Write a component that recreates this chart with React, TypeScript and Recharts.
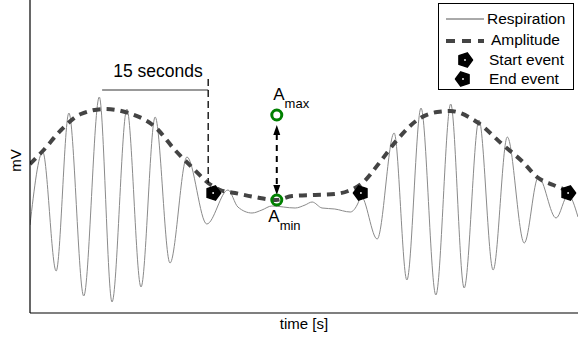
import React from 'react';
import {
  ComposedChart,
  Line,
  Scatter,
  XAxis,
  YAxis,
  ReferenceLine,
  ReferenceDot,
  Legend,
} from 'recharts';

// respiration trace (seconds, mV)
const respTime = [
  0, 1.8, 3.7, 5.5, 7.6, 9.8, 11.6, 13.7, 15.7, 17.7, 19.8, 22.2, 25.0, 28.0,
  29.4, 31.4, 32.8, 34.2, 37.5, 38.9, 39.9, 41.3, 43.1, 45.3, 46.4, 46.8, 49.1,
  51.5, 53.3, 55.3, 57.4, 59.5, 61.4, 63.5, 65.5, 67.5, 69.9, 71.9, 74.4, 76.1,
  77.5,
];
const respMv = [
  -0.25, 0.48, -0.71, 0.87, -0.96, 1.03, -1.02, 0.91, -0.87, 0.83, -0.63, 0.43,
  -0.24, 0.1, -0.07, -0.13, -0.1, -0.06, -0.08, -0.05, -0.02, -0.08, -0.09,
  -0.12, -0.03, 0.04, -0.39, 0.67, -0.8, 0.92, -0.95, 0.96, -0.88, 0.8, -0.7,
  0.63, -0.43, 0.23, -0.18, 0.05, -0.17,
];

// amplitude envelope
const ampTime = [
  0, 1.8, 4.4, 7.2, 10.6, 13.9, 17.7, 20.5, 23.3, 25.2, 26.9, 29.0, 31.8, 34.8,
  37.1, 40.3, 43.1, 45.0, 47.0, 49.5, 51.9, 55.2, 57.6, 59.4, 63.2, 66.9, 69.7,
  71.7, 74.0, 75.4,
];
const ampMv = [
  0.36, 0.49, 0.7, 0.86, 0.91, 0.87, 0.73, 0.5, 0.3, 0.17, 0.1, 0.07, 0.03, 0,
  0.04, 0.05, 0.06, 0.09, 0.17, 0.38, 0.6, 0.82, 0.88, 0.89, 0.78, 0.55, 0.38,
  0.23, 0.15, 0.11,
];

const startEventTime = [25.9, 76.1];
const endEventTime = [46.8];
const eventMv = 0.07;

const aTime = 34.9;
const aMaxMv = 0.85;
const aMinMv = 0.0;

const windowStart = 10.2;
const windowEnd = 25.2;

const T_MAX = 77.5;
const MV_MIN = -1.13;
const MV_MAX = 2.0;

const FONT = '"Liberation Sans", Arial, Helvetica, sans-serif';

const zip = (ts: number[], vs: number[]) => ts.map((t, i) => ({ t, v: vs[i] }));

const respData = zip(respTime, respMv);
const ampData = zip(ampTime, ampMv);
const startData = startEventTime.map((t) => ({ t, v: eventMv }));
const endData = endEventTime.map((t) => ({ t, v: eventMv }));
const aData = [
  { t: aTime, v: aMaxMv },
  { t: aTime, v: aMinMv },
];

// regular pentagon with a vertex pointing right (dir=1) or left (dir=-1)
const pentagon = (cx: number, cy: number, dir: number, r = 7.5) => {
  const pts = [0, 72, 144, 216, 288].map((a) => {
    const rad = (a * Math.PI) / 180;
    return `${cx + dir * r * Math.cos(rad)},${cy + r * Math.sin(rad)}`;
  });
  return (
    <g>
      <polygon points={pts.join(' ')} fill="#000" stroke="#000" strokeWidth={1.5} strokeLinejoin="round" />
      <circle cx={cx} cy={cy} r={0.9} fill="#fff" />
    </g>
  );
};

const EventMarker = (dir: number) => (p: any) => pentagon(p.cx, p.cy, dir);

const RingMarker = (p: any) => (
  <circle cx={p.cx} cy={p.cy} r={5} fill="none" stroke="#008000" strokeWidth={3} />
);

const DoubleArrow = (p: any) => {
  const { x1, y1, x2, y2 } = p;
  const head = 10;
  const hw = 3.5;
  return (
    <g>
      <line x1={x1} y1={y1 + head - 1} x2={x2} y2={y2 - head + 1} stroke="#000" strokeWidth={2} strokeDasharray="6 5" />
      <polygon points={`${x1},${y1} ${x1 - hw},${y1 + head} ${x1 + hw},${y1 + head}`} fill="#000" />
      <polygon points={`${x2},${y2} ${x2 - hw},${y2 - head} ${x2 + hw},${y2 - head}`} fill="#000" />
    </g>
  );
};

const textAt = (label: string, sub: string | null, size: number, anchor: 'start' | 'middle' = 'start') =>
  (p: any) => (
    <text x={p.cx} y={p.cy} fontSize={size} fill="#000" textAnchor={anchor} fontFamily={FONT}>
      {label}
      {sub ? (
        <tspan fontSize={13} dy={8}>
          {sub}
        </tspan>
      ) : null}
    </text>
  );

const LegendBox = () => (
  <svg width={136} height={87} style={{ display: 'block' }}>
    <rect x={0.5} y={0.5} width={135} height={86} fill="#fff" stroke="#000" strokeWidth={1} />
    <line x1={8} y1={16} x2={46} y2={16} stroke="#555" strokeWidth={1} />
    <text x={49} y={21} fontSize={15.5} fontFamily={FONT}>Respiration</text>
    <line x1={8} y1={38} x2={46} y2={38} stroke="#444" strokeWidth={4} strokeDasharray="9 7" />
    <text x={53} y={42} fontSize={15.5} fontFamily={FONT}>Amplitude</text>
    {pentagon(27, 57, 1)}
    <text x={51} y={62} fontSize={15.5} fontFamily={FONT}>Start event</text>
    {pentagon(25, 76, -1)}
    <text x={51} y={81} fontSize={15.5} fontFamily={FONT}>End event</text>
  </svg>
);

export default function App() {
  return (
    <div style={{ position: 'absolute', left: 0, top: 0, width: 578, height: 343, background: '#fff', fontFamily: FONT }}>
      <ComposedChart width={578} height={343} margin={{ top: 0, right: 0, bottom: 29, left: 29 }}>
        <XAxis
          type="number"
          dataKey="t"
          domain={[0, T_MAX]}
          allowDataOverflow
          height={1}
          tick={false}
          tickLine={false}
          axisLine={{ stroke: '#000', strokeWidth: 1.2 }}
          label={{
            content: (p: any) => {
              const vb = p.viewBox || { x: 30, y: 313, width: 548, height: 1 };
              return (
                <text x={vb.x + vb.width / 2} y={vb.y + 16} textAnchor="middle" fontSize={15} fontFamily={FONT} fill="#000">
                  time [s]
                </text>
              );
            },
          }}
        />
        <YAxis
          type="number"
          domain={[MV_MIN, MV_MAX]}
          allowDataOverflow
          width={1}
          tick={false}
          tickLine={false}
          axisLine={{ stroke: '#000', strokeWidth: 1.2 }}
          label={{
            content: (p: any) => {
              const vb = p.viewBox || { x: 29, y: 0, width: 1, height: 313 };
              const x = vb.x + vb.width - 15;
              const y = vb.y + vb.height / 2 + 4;
              return (
                <text x={x} y={y} transform={`rotate(-90 ${x} ${y})`} textAnchor="middle" dominantBaseline="central" fontSize={15} fontFamily={FONT} fill="#000">
                  mV
                </text>
              );
            },
          }}
        />
        <Legend
          layout="vertical"
          align="center"
          verticalAlign="middle"
          wrapperStyle={{ top: 3, left: 438, width: 136 }}
          content={() => <LegendBox />}
        />

        <Line data={respData} dataKey="v" type="monotone" stroke="#8a8a8a" strokeWidth={1} dot={false} activeDot={false} isAnimationActive={false} />
        <Line data={ampData} dataKey="v" type="monotone" stroke="#444" strokeWidth={4} strokeDasharray="8 6" dot={false} activeDot={false} isAnimationActive={false} />

        <ReferenceLine
          segment={[{ x: windowStart, y: 1.1 }, { x: windowEnd, y: 1.1 }]}
          stroke="#999"
          strokeWidth={2}
        />
        <ReferenceLine
          segment={[{ x: windowEnd, y: 1.21 }, { x: windowEnd, y: 0.17 }]}
          stroke="#000"
          strokeWidth={1.3}
          strokeDasharray="7 4"
        />
        <ReferenceLine
          segment={[{ x: aTime, y: 0.75 }, { x: aTime, y: 0.05 }]}
          shape={DoubleArrow}
        />

        <Scatter data={aData} dataKey="v" shape={RingMarker} isAnimationActive={false} />
        <Scatter data={startData} dataKey="v" shape={EventMarker(1)} isAnimationActive={false} />
        <Scatter data={endData} dataKey="v" shape={EventMarker(-1)} isAnimationActive={false} />

        <ReferenceDot x={18.1} y={1.23} r={0} shape={textAt('15 seconds', null, 17.5, 'middle')} />
        <ReferenceDot x={34.4} y={1.0} r={0} shape={textAt('A', 'max', 17)} />
        <ReferenceDot x={33.7} y={-0.22} r={0} shape={textAt('A', 'min', 17)} />
      </ComposedChart>
    </div>
  );
}
